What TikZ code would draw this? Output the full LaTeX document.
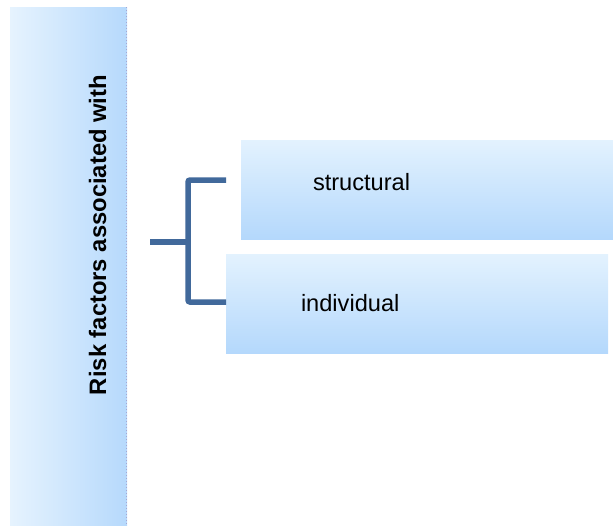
\documentclass[tikz,border=0pt]{standalone}
\usepackage{fontspec}
\setmainfont{Liberation Sans}
\usetikzlibrary{positioning}
\newlength{\du}
\setlength{\du}{1pt}
\definecolor{barlightcolor}{rgb}{0.902, 0.953, 0.996}
\definecolor{bardarkcolor}{rgb}{0.714, 0.851, 0.988}
\definecolor{boxtopcolor}{rgb}{0.890, 0.949, 0.996}
\definecolor{boxbottomcolor}{rgb}{0.706, 0.847, 0.988}
\definecolor{bracketcolor}{rgb}{0.255, 0.412, 0.608}
\definecolor{baredgecolor}{rgb}{0.650, 0.660, 0.820}
\tikzset{
  leftbar/.style={shade, left color=barlightcolor, right color=bardarkcolor, inner sep=0pt, outer sep=0pt},
  catbox/.style={shade, top color=boxtopcolor, bottom color=boxbottomcolor, inner sep=0pt, outer sep=0pt, minimum height=99\du},
  cattext/.style={anchor=base west, inner sep=0pt, outer sep=0pt, font=\fontsize{23.6}{28}\selectfont},
  bracket/.style={line width=5.5\du, color=bracketcolor, rounded corners=2\du}
}
\begin{document}
\begin{tikzpicture}[x=1\du,y=-1\du]
\useasboundingbox (0,0) rectangle (613,525);
% left bar
\node[leftbar, minimum width=117\du, minimum height=518\du, anchor=north west] (bar) at (10,7) {};
\draw[dotted, baredgecolor, line width=1\du] ([xshift=-0.5\du]bar.north east) -- ([xshift=-0.5\du]bar.south east);
\node[anchor=base west, rotate=90, inner sep=0pt, outer sep=0pt, font=\fontsize{23.8}{28}\selectfont\bfseries] (title) at (106,395) {Risk factors associated with};
% boxes
\node[catbox, minimum width=372\du, anchor=north west] (structural) at (241,140) {};
\node[cattext] (structuraltext) at ([xshift=72\du,yshift=-1\du]structural.west) {structural};
\node[catbox, minimum width=382\du, anchor=north west] (individual) at (226,254) {};
\node[cattext] (individualtext) at ([xshift=75\du,yshift=-8\du]individual.west) {individual};
% bracket
\coordinate (stem) at (150,242);
\coordinate (fork) at (188,242);
\draw[bracket] (stem) -- (fork);
\draw[bracket] ([yshift=9.5\du]structural.west -| individual.west) -| (fork) |- ([yshift=1.5\du]individual.west);
\end{tikzpicture}
\end{document}
